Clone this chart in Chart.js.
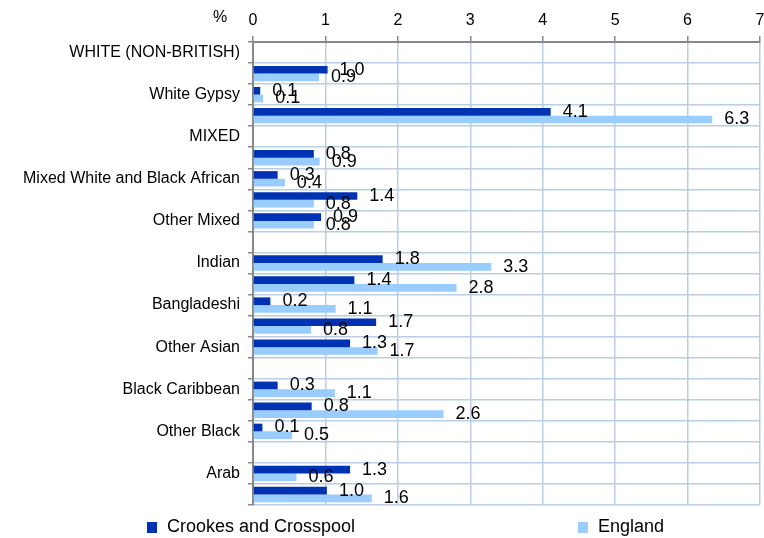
<!DOCTYPE html>
<html lang="en">
<head>
  <meta charset="UTF-8">
  <title>Ethnic groups - Crookes and Crosspool vs England</title>
  <script src="https://cdn.jsdelivr.net/npm/chart.js"></script>
  <style>
    body { margin: 0; background: #fff; }
    #wrap { width: 764px; height: 538px; }
  </style>
</head>
<body>
  <div id="wrap"><canvas id="ethnicChart"></canvas></div>

  <script>
    // categories (header rows have no bars)
    const categories = [
      'WHITE (NON-BRITISH)', 'White Irish', 'White Gypsy', 'Other White',
      'MIXED', 'Mixed White and Black Caribbean', 'Mixed White and Black African', 'Mixed White and Asian', 'Other Mixed',
      'ASIAN', 'Indian', 'Pakistani', 'Bangladeshi', 'Chinese', 'Other Asian',
      'BLACK', 'Black Caribbean', 'Black African', 'Other Black',
      'OTHER', 'Arab', 'Other ethnic group'
    ];
    const crookes = [null, 1.03, 0.10, 4.11, null, 0.84, 0.34, 1.44, 0.94, null, 1.79, 1.40, 0.24, 1.70, 1.34, null, 0.34, 0.81, 0.13, null, 1.34, 1.02];
    const england = [null, 0.91, 0.14, 6.34, null, 0.92, 0.44, 0.84, 0.84, null, 3.29, 2.81, 1.14, 0.80, 1.72, null, 1.13, 2.63, 0.54, null, 0.60, 1.64];
    const seriesNames = ['Crookes and Crosspool', 'England'];
    const xTicks = [0, 1, 2, 3, 4, 5, 6, 7];

    const colors = ['#0033B3', '#99CCFF'];
    const gridColor = '#B9CDE5';
    const axisColor = '#888888';
    const fontFamily = '"Liberation Sans", Arial, sans-serif';
    const legendX = [147, 578];

    // value labels at the bar ends
    const valueLabels = {
      id: 'valueLabels',
      afterDatasetsDraw(chart) {
        const ctx = chart.ctx;
        ctx.save();
        ctx.font = '18px ' + fontFamily;
        ctx.fillStyle = '#000';
        ctx.textBaseline = 'middle';
        ctx.textAlign = 'left';
        chart.data.datasets.forEach((ds, di) => {
          chart.getDatasetMeta(di).data.forEach((bar, i) => {
            const v = ds.data[i];
            if (v === null) return;
            ctx.fillText(v.toFixed(1), bar.x + 12, bar.y);
          });
        });
        ctx.restore();
      }
    };

    // "%" unit next to the top axis, and the legend spread along the bottom
    const extras = {
      id: 'extras',
      afterDraw(chart) {
        const ctx = chart.ctx;
        const area = chart.chartArea;
        ctx.save();
        ctx.fillStyle = '#000';
        ctx.font = '16px ' + fontFamily;
        ctx.textAlign = 'center';
        ctx.textBaseline = 'middle';
        ctx.fillText('%', area.left - 33, 18);

        ctx.font = '18px ' + fontFamily;
        ctx.textAlign = 'left';
        const y = area.bottom + 22;
        seriesNames.forEach((name, i) => {
          ctx.fillStyle = colors[i];
          ctx.fillRect(legendX[i], y - 5, 10, 11);
          ctx.fillStyle = '#000';
          ctx.fillText(name, legendX[i] + 20, y);
        });
        ctx.restore();
      }
    };

    new Chart(document.getElementById('ethnicChart'), {
      type: 'bar',
      data: {
        labels: categories,
        datasets: [
          { label: seriesNames[0], data: crookes, backgroundColor: colors[0] },
          { label: seriesNames[1], data: england, backgroundColor: colors[1] }
        ]
      },
      options: {
        indexAxis: 'y',
        responsive: true,
        maintainAspectRatio: false,
        animation: false,
        layout: { padding: { right: 4, bottom: 33 } },
        datasets: { bar: { categoryPercentage: 0.73, barPercentage: 1.0 } },
        plugins: {
          legend: { display: false },
          tooltip: { enabled: false }
        },
        scales: {
          x: {
            position: 'top',
            min: 0,
            max: 7,
            afterBuildTicks: s => { s.ticks = xTicks.map(v => ({ value: v })); },
            afterFit: s => { s.height = 42; s.paddingLeft = 0; s.paddingRight = 0; },
            ticks: { color: '#000', font: { size: 16, family: fontFamily }, padding: 6 },
            grid: { color: gridColor, lineWidth: 1.5, tickColor: axisColor, tickLength: 6 },
            border: { color: axisColor, width: 2 }
          },
          y: {
            afterFit: s => { s.width = 253; },
            ticks: {
              autoSkip: false,
              color: '#000',
              font: { size: 16, family: fontFamily },
              padding: 8,
              callback: (v, i) => (i % 2 === 0 ? categories[i] : '')
            },
            grid: { color: gridColor, lineWidth: 1.5, tickColor: axisColor, tickLength: 5 },
            border: { color: axisColor, width: 2 }
          }
        }
      },
      plugins: [valueLabels, extras]
    });
  </script>
</body>
</html>
